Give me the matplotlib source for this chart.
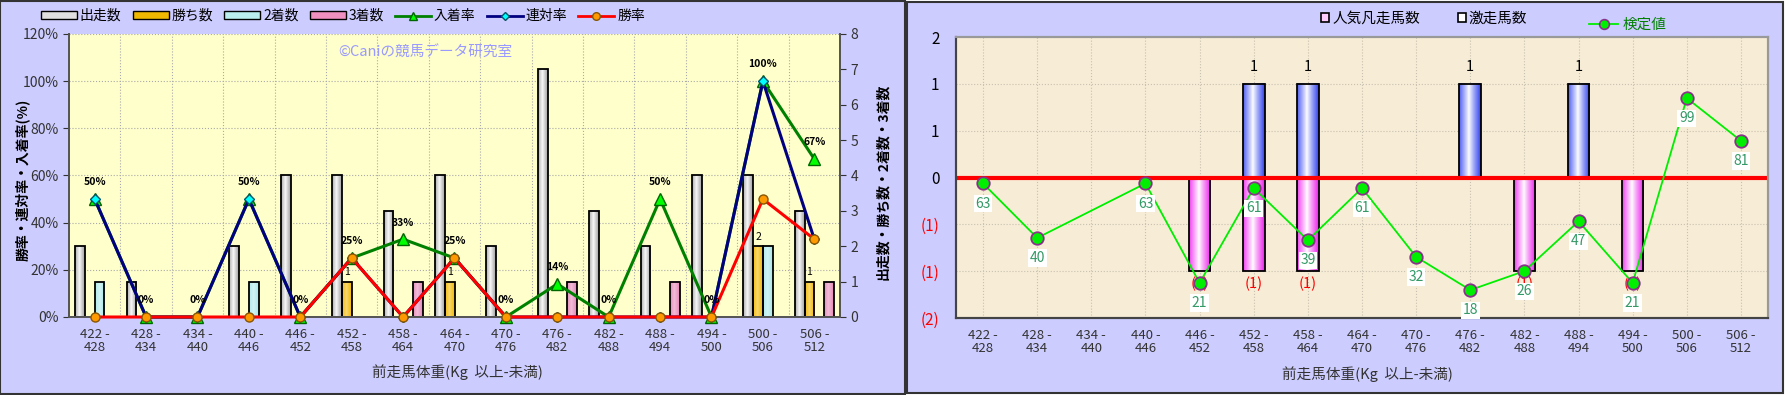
import matplotlib.pyplot as plt
import numpy as np
from matplotlib.patches import Rectangle, Patch
from matplotlib.lines import Line2D

plt.rcParams['font.family'] = ['Noto Sans CJK JP', 'DejaVu Sans']

W, H = 1790, 395

cats = ['422 -\n428', '428 -\n434', '434 -\n440', '440 -\n446', '446 -\n452',
        '452 -\n458', '458 -\n464', '464 -\n470', '470 -\n476', '476 -\n482',
        '482 -\n488', '488 -\n494', '494 -\n500', '500 -\n506', '506 -\n512']

# left chart
starts = [2, 1, 0, 2, 4, 4, 3, 4, 2, 7, 3, 2, 4, 4, 3]
wins = [0, 0, 0, 0, 0, 1, 0, 1, 0, 0, 0, 0, 0, 2, 1]
seconds = [1, 0, 0, 1, 0, 0, 0, 0, 0, 0, 0, 0, 0, 2, 0]
thirds = [0, 0, 0, 0, 0, 0, 1, 0, 0, 1, 0, 1, 0, 0, 1]
place_rate = [50, 0, 0, 50, 0, 25, 33, 25, 0, 14, 0, 50, 0, 100, 67]
rentai_rate = [50, 0, 0, 50, 0, 25, 0, 25, 0, 0, 0, 0, 0, 100, 33]
win_rate = [0, 0, 0, 0, 0, 25, 0, 25, 0, 0, 0, 0, 0, 50, 33]

# right chart
gekisou = [0, 0, 0, 0, 0, 1, 1, 0, 0, 1, 0, 1, 0, 0, 0]
ninki_bonsou = [0, 0, 0, 0, -1, -1, -1, 0, 0, 0, -1, 0, -1, 0, 0]
kentei = [63, 40, None, 63, 21, 61, 39, 61, 32, 18, 26, 47, 21, 99, 81]
right_ticks = [-1.5, -1.0, -0.5, 0, 0.5, 1.0, 1.5]
right_ticklabels = ['(2)', '(1)', '(1)', '0', '1', '1', '2']


def fx(px):
    return px / W


def fy(py):
    return 1 - py / H


def mix(c, f):
    c = np.array(plt.matplotlib.colors.to_rgb(c))
    return c * f + np.ones(3) * (1 - f)


def grad_bar(ax, x, h, w, color, lo=0.0, z=2):
    # cylinder-like fill: colour at edges, lighter near the middle
    t = np.linspace(0, 1, 40)
    prof = np.clip(np.abs(t - 0.45) / 0.55, 0, 1) ** 0.9
    f = lo + (1 - lo) * prof
    img = np.array([[mix(color, v) for v in f]])
    ax.imshow(img, extent=[x - w / 2, x + w / 2, min(0, h), max(0, h)],
              aspect='auto', zorder=z, interpolation='bilinear')
    ax.add_patch(Rectangle((x - w / 2, min(0, h)), w, abs(h), fill=False,
                           edgecolor='black', lw=1.3, zorder=z + 0.1))


fig = plt.figure(figsize=(W / 100, H / 100), dpi=100, facecolor='white')
fig.patches.append(Rectangle((0, 0.003), fx(905), 0.994, transform=fig.transFigure,
                             facecolor='#CCCCFF', edgecolor='#333333', lw=1.5, zorder=-10))
fig.patches.append(Rectangle((fx(907), fy(393)), fx(876), 391 / H, transform=fig.transFigure,
                             facecolor='#CCCCFF', edgecolor='#333333', lw=1.5, zorder=-10))

x = np.arange(len(cats))

# ---------------- left chart ----------------
axL = fig.add_axes([fx(69), fy(317), fx(771), 283 / H])
axL.set_facecolor('#FFFFCC')
axR = axL.twinx()
axL.set_xlim(-0.5, len(cats) - 0.5)
axL.set_ylim(0, 8)
axR.set_ylim(0, 120)

for r in [20, 40, 60, 80, 100, 120]:
    axL.plot([-0.5, len(cats) - 0.5], [r, r], transform=axR.transData,
             color='#AAAAAA', lw=0.8, ls=':', zorder=1)
for b in x[:-1] + 0.5:
    axL.axvline(b, color='#AAAAAA', lw=0.8, ls=':', zorder=1)

bw = 0.19
series = [(starts, '#A0A0A0', 0.05, -1.5), (wins, '#F2B800', 0.55, -0.5),
          (seconds, '#A8E8E8', 0.5, 0.5), (thirds, '#E688B8', 0.55, 1.5)]
for vals, col, lo, off in series:
    for i, v in enumerate(vals):
        if v:
            grad_bar(axL, i + off * bw, v, bw, col, lo)
for i, v in enumerate(wins):
    if v:
        axL.text(i - 0.5 * bw, v + 0.12, str(v), ha='center', va='bottom', fontsize=7.5, zorder=6)

axR.plot(x, place_rate, color='#008000', lw=2.2, marker='^', ms=8, mfc='#00FF00',
         mec='#006600', clip_on=False, zorder=3)
axR.plot(x, rentai_rate, color='#000080', lw=2.2, marker='D', ms=5.5, mfc='#00FFFF',
         mec='#005566', clip_on=False, zorder=4)
axR.plot(x, win_rate, color='#FF0000', lw=2.2, marker='o', ms=6.5, mfc='#FF9900',
         mec='#885500', clip_on=False, zorder=5)
for i, v in enumerate(place_rate):
    axR.annotate(f'{v}%', (i, v), xytext=(0, 12), textcoords='offset points',
                 ha='center', va='center', fontsize=7.5, fontweight='bold', zorder=7)

axL.yaxis.tick_right()
axL.set_yticks(range(0, 9))
axR.yaxis.tick_left()
axR.set_yticks(range(0, 121, 20))
axR.set_yticklabels([f'{v}%' for v in range(0, 121, 20)])
axL.set_xticks(x)
axL.set_xticklabels(cats, fontsize=9.5, color='#333333', linespacing=1.0)
axL.tick_params(axis='x', length=0, pad=8)
axL.tick_params(axis='y', labelsize=10, colors='#333333', direction='out', length=4)
axR.tick_params(axis='y', labelsize=10, colors='#333333', direction='out', length=4)
for a in (axL, axR):
    a.spines['top'].set_visible(False)
    for s in ['left', 'right', 'bottom']:
        a.spines[s].set_color('#555555')
        a.spines[s].set_linewidth(1.3)

fig.text(fx(22), fy(180), '勝率・連対率・入着率(%)', rotation=90, ha='center', va='center',
         fontsize=10, fontweight='bold')
fig.text(fx(883), fy(182), '出走数・勝ち数・2着数・3着数', rotation=90, ha='center', va='center',
         fontsize=10, fontweight='bold')
fig.text(fx(457), fy(372), '前走馬体重(Kg  以上-未満)', ha='center', va='center',
         fontsize=10.5, color='#333333')
fig.text(fx(425), fy(53), '©Caniの競馬データ研究室', ha='center', va='center',
         fontsize=10.5, color='#9999FF')

handles = [Patch(facecolor='#E0E0E0', edgecolor='black'),
           Patch(facecolor='#F0B800', edgecolor='black'),
           Patch(facecolor='#BBEEEE', edgecolor='black'),
           Patch(facecolor='#F090C0', edgecolor='black'),
           Line2D([], [], color='#008000', lw=2, marker='^', ms=6, mfc='#00FF00', mec='#006600'),
           Line2D([], [], color='#000080', lw=2, marker='D', ms=4.5, mfc='#00FFFF', mec='#005566'),
           Line2D([], [], color='#FF0000', lw=2, marker='o', ms=5.5, mfc='#FF9900', mec='#885500')]
labels = ['出走数', '勝ち数', '2着数', '3着数', '入着率', '連対率', '勝率']
fig.legend(handles, labels, loc='center left', bbox_to_anchor=(fx(34), fy(16)), ncol=7,
           frameon=False, fontsize=10, handlelength=2.6, handleheight=0.5,
           handletextpad=0.2, columnspacing=0.8, borderpad=0)

# ---------------- right chart ----------------
axB = fig.add_axes([fx(956), fy(318), fx(812), 281 / H])
axB.set_facecolor('#F7EDD6')
axB.set_xlim(-0.5, len(cats) - 0.5)
axB.set_ylim(-1.5, 1.5)
axB.set_yticks(right_ticks)
axB.grid(True, color='#C8C0B0', lw=0.8, ls=':')
axB.set_axisbelow(True)

bw2 = 0.4
for i, v in enumerate(gekisou):
    if v:
        grad_bar(axB, i, v, bw2, '#3344EE')
        axB.text(i, v + 0.1, str(v), ha='center', va='bottom', fontsize=10.5, zorder=6)
for i, v in enumerate(ninki_bonsou):
    if v:
        grad_bar(axB, i, v, bw2, '#EE22EE')
        axB.text(i, v - 0.14, f'({abs(v)})', ha='center', va='center', fontsize=10.5,
                 color='#FF0000', zorder=6)
axB.axhline(0, color='#FF0000', lw=3, zorder=4)

axB2 = axB.twinx()
axB2.set_ylim(6.2, 124.8)
axB2.set_yticks([])
kx = [i for i, v in enumerate(kentei) if v is not None]
ky = [v for v in kentei if v is not None]
axB2.plot(kx, ky, color='#00EE00', lw=1.3, marker='o', ms=9, mfc='#00EE00',
          mec='#883388', mew=1.3, zorder=5)
for i, v in zip(kx, ky):
    axB2.annotate(str(v), (i, v), xytext=(0, -14.5), textcoords='offset points',
                  ha='center', va='center', fontsize=10, color='#339966', zorder=6,
                  bbox=dict(boxstyle='square,pad=0.12', facecolor='white', edgecolor='none'))

axB.set_xticks(x)
axB.set_xticklabels(cats, fontsize=9.5, color='#333333', linespacing=1.0)
axB.tick_params(axis='x', length=0, pad=8)
axB.set_yticklabels(right_ticklabels, fontsize=11)
axB.tick_params(axis='y', length=0, pad=12)
for lab in axB.get_yticklabels():
    lab.set_color('#FF0000' if lab.get_text().startswith('(') else 'black')
for a in (axB, axB2):
    for s in ['left', 'bottom']:
        a.spines[s].set_color('#444444')
        a.spines[s].set_linewidth(1.5)
    for s in ['top', 'right']:
        a.spines[s].set_color('#999999')
        a.spines[s].set_linewidth(1.5)

fig.text(fx(1367), fy(374), '前走馬体重(Kg  以上-未満)', ha='center', va='center',
         fontsize=10.5, color='#333333')

h2 = [Patch(facecolor='#FFCCFF', edgecolor='black', lw=1.2),
      Patch(facecolor='white', edgecolor='black', lw=1.2)]
fig.legend(h2, ['人気凡走馬数', '激走馬数'], loc='center left',
           bbox_to_anchor=(fx(1314), fy(19)), ncol=2, frameon=False, fontsize=10.5,
           handlelength=0.55, handleheight=0.55, handletextpad=0.2, columnspacing=2.6,
           borderpad=0)
leg3 = fig.legend([Line2D([], [], color='#00EE00', lw=1.3, marker='o', ms=7, mfc='#00EE00',
                          mec='#883388', mew=1.2)], ['検定値'], loc='center left',
                  bbox_to_anchor=(fx(1582), fy(25)), frameon=False, fontsize=10.5,
                  handlelength=2.0, handletextpad=0.3, borderpad=0)
for t in leg3.get_texts():
    t.set_color('#008000')

fig.savefig('out.png', dpi=100, facecolor='white')
